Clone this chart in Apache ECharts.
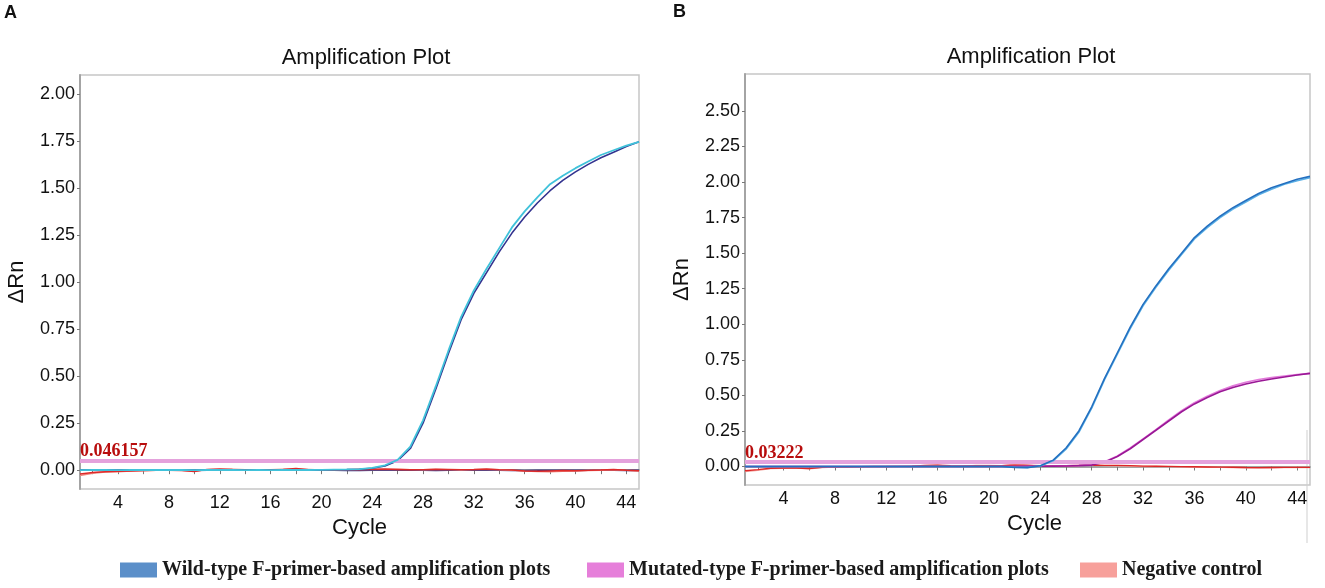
<!DOCTYPE html>
<html>
<head>
<meta charset="utf-8">
<script src="https://cdn.jsdelivr.net/npm/echarts@6/dist/echarts.min.js"></script>
<style>
html,body{margin:0;padding:0;background:#fff;}
#chart{width:1325px;height:588px;}
</style>
</head>
<body>
<div id="chart"></div>
<script>
// ---------- data ----------
const cycles = [1,2,3,4,5,6,7,8,9,10,11,12,13,14,15,16,17,18,19,20,21,22,23,24,25,26,27,28,29,30,31,32,33,34,35,36,37,38,39,40,41,42,43,44,45];
const xTickValues = [2,4,6,8,10,12,14,16,18,20,22,24,26,28,30,32,34,36,38,40,42,44];
const xLabelValues = [4,8,12,16,20,24,28,32,36,40,44];
const yLabelsA = [0,0.25,0.5,0.75,1,1.25,1.5,1.75,2];
const yLabelsB = [0,0.25,0.5,0.75,1,1.25,1.5,1.75,2,2.25,2.5];
const thresholdA = 0.046157;
const thresholdB = 0.03222;

// Panel A
const aWild1 = [0.000,0.002,0.001,0.000,0.001,0.002,0.001,0.002,0.001,0.000,0.001,0.002,0.001,0.000,0.001,0.000,0.001,0.002,0.001,0.002,0.003,0.004,0.006,0.012,0.026,0.055,0.125,0.265,0.445,0.635,0.815,0.955,1.070,1.180,1.290,1.375,1.450,1.520,1.565,1.605,1.640,1.675,1.700,1.725,1.745];
const aWild2 = [0.000,0.001,0.001,0.000,0.001,0.001,0.001,0.001,0.000,0.000,0.001,0.001,0.001,0.000,0.000,0.000,0.001,0.001,0.001,0.001,0.002,0.003,0.005,0.010,0.022,0.050,0.115,0.250,0.430,0.620,0.800,0.940,1.050,1.160,1.260,1.345,1.420,1.485,1.540,1.585,1.625,1.660,1.690,1.720,1.745];
const aFlat  = [0.000,0.000,-0.001,0.000,0.001,0.000,0.000,0.001,0.000,-0.001,0.000,0.001,0.000,0.000,0.000,0.001,0.000,0.000,0.001,0.000,0.000,-0.001,-0.001,0.000,0.000,0.001,0.000,0.000,-0.001,0.000,0.000,0.001,0.000,0.000,-0.001,-0.002,-0.001,0.000,0.000,-0.001,0.000,0.001,0.000,-0.001,-0.001];
const aNeg1  = [-0.020,-0.012,-0.008,-0.006,-0.004,-0.002,-0.001,0.000,-0.002,-0.007,0.004,0.006,0.004,0.003,0.002,0.003,0.004,0.009,0.003,0.002,0.001,0.003,0.004,0.005,0.006,0.004,0.002,0.003,0.005,0.004,0.003,0.004,0.006,0.003,0.001,-0.004,-0.006,-0.004,-0.002,-0.003,-0.001,0.001,0.004,0.000,-0.003];
const aNeg2  = [-0.028,-0.016,-0.010,-0.008,-0.005,-0.003,-0.001,0.001,0.000,-0.004,0.002,0.004,0.005,0.002,0.001,0.002,0.005,0.006,0.004,0.001,0.000,0.002,0.004,0.003,0.004,0.005,0.003,0.002,0.004,0.003,0.001,0.003,0.004,0.002,-0.001,-0.005,-0.007,-0.008,-0.006,-0.004,-0.002,0.000,0.002,-0.001,-0.004];

// Panel B
const bWild1 = [0.000,0.000,0.000,0.000,0.000,0.000,0.000,0.000,0.000,0.000,0.000,0.000,0.000,0.000,0.000,0.000,0.000,0.000,0.000,0.000,0.000,-0.006,-0.008,0.005,0.045,0.130,0.250,0.420,0.620,0.800,0.980,1.140,1.270,1.390,1.500,1.610,1.690,1.760,1.820,1.870,1.920,1.960,1.990,2.020,2.040];
const bWild2 = [0.000,0.000,0.000,0.000,0.000,0.000,0.000,0.000,0.000,0.000,0.000,0.000,0.000,0.000,0.000,0.000,0.000,0.000,0.000,0.000,0.000,-0.004,-0.006,0.004,0.040,0.122,0.240,0.410,0.610,0.790,0.970,1.130,1.260,1.380,1.490,1.600,1.680,1.750,1.810,1.860,1.910,1.950,1.985,2.010,2.030];
const bMut1  = [0.000,0.000,0.000,0.000,0.000,0.000,0.000,0.000,0.000,0.000,0.000,0.000,0.000,0.000,0.000,0.000,0.000,0.000,0.000,0.000,0.000,0.000,0.001,0.002,0.003,0.004,0.006,0.010,0.030,0.070,0.125,0.190,0.255,0.320,0.385,0.440,0.485,0.525,0.555,0.580,0.600,0.615,0.630,0.643,0.655];
const bMut2  = [0.000,0.000,0.000,0.000,0.000,0.000,0.000,0.000,0.000,0.000,0.000,0.000,0.000,0.000,0.000,0.000,0.000,0.000,0.000,0.000,0.000,0.000,0.001,0.002,0.003,0.005,0.008,0.012,0.033,0.074,0.130,0.195,0.260,0.327,0.392,0.448,0.495,0.535,0.567,0.593,0.612,0.625,0.636,0.646,0.655];
const bNeg1  = [-0.030,-0.022,-0.012,-0.010,-0.010,-0.014,-0.006,-0.002,-0.003,-0.002,0.000,0.000,0.001,0.003,0.008,0.009,0.005,0.004,0.006,0.006,0.005,0.010,0.008,0.004,0.003,0.005,0.008,0.009,0.008,0.008,0.006,0.003,0.002,0.001,-0.001,-0.002,-0.003,-0.004,-0.005,-0.007,-0.008,-0.007,-0.006,-0.006,-0.006];
const bNeg2  = [-0.036,-0.026,-0.015,-0.012,-0.011,-0.016,-0.008,-0.004,-0.004,-0.003,-0.001,0.000,0.002,0.004,0.006,0.010,0.000,0.003,0.007,0.008,0.006,0.016,0.011,0.006,0.002,0.004,0.006,0.012,0.006,0.005,0.004,0.000,0.000,-0.001,-0.002,-0.003,-0.004,-0.006,-0.007,-0.009,-0.010,-0.009,-0.008,-0.007,-0.008];

const nameWild = 'Wild-type F-primer-based amplification plots';
const nameMut = 'Mutated-type F-primer-based amplification plots';
const nameNeg = 'Negative control';

// ---------- build ----------
const pairs = arr => cycles.map((c, i) => [c, arr[i]]);
const sans = 'Liberation Sans, Arial, sans-serif';
const serif = 'Liberation Serif, Times New Roman, serif';

function lineSeries(name, arr, color, idx, z, width) {
  return {
    type: 'line', name: name, data: pairs(arr),
    xAxisIndex: idx, yAxisIndex: idx,
    showSymbol: false, symbol: 'none', smooth: false,
    lineStyle: { color: color, width: width || 1.6 },
    itemStyle: { color: color },
    z: z, silent: true, animation: false
  };
}

function thresholdMark(value, label) {
  return {
    symbol: 'none', silent: true, animation: false,
    lineStyle: { color: '#e4a2dc', width: 4, type: 'solid' },
    label: {
      show: true, position: 'insideStartTop', formatter: label,
      color: '#b80d0d', fontFamily: serif, fontWeight: 'bold', fontSize: 18,
      distance: [0, 0]
    },
    data: [{ yAxis: value }]
  };
}

function xAxis(idx, namePad) {
  return {
    type: 'value', gridIndex: idx, min: 1, max: 45,
    axisLine: { show: true, lineStyle: { color: '#a4a4a4', width: 2 } },
    axisTick: { show: true, customValues: xTickValues, length: 4, lineStyle: { color: '#777', width: 1 } },
    axisLabel: { customValues: xLabelValues, fontSize: 18, color: '#111', fontFamily: sans, margin: 5 },
    splitLine: { show: false },
    name: 'Cycle', nameLocation: 'middle', nameGap: 28,
    nameTextStyle: { fontSize: 22, color: '#111', fontFamily: sans, padding: namePad }
  };
}

function yAxis(idx, min, max, labels) {
  return {
    type: 'value', gridIndex: idx, min: min, max: max,
    axisLine: { show: true, lineStyle: { color: '#a4a4a4', width: 2 } },
    axisTick: { show: true, customValues: labels, length: 3, lineStyle: { color: '#777', width: 1 } },
    axisLabel: { customValues: labels, fontSize: 18, color: '#111', fontFamily: sans, margin: 5,
                 formatter: v => Number(v).toFixed(2) },
    splitLine: { show: false },
    name: 'ΔRn', nameLocation: 'middle', nameGap: 52, nameRotate: 90,
    nameTextStyle: { fontSize: 22, color: '#111', fontFamily: sans }
  };
}

const seriesA = [
  lineSeries(nameNeg, aFlat, '#2c2c80', 0, 2, 1.6),
  lineSeries(nameNeg, aNeg2, '#f08a80', 0, 3, 1.4),
  lineSeries(nameNeg, aNeg1, '#dd2a2a', 0, 3, 1.4),
  lineSeries(nameWild, aWild2, '#33338f', 0, 4, 1.6),
  lineSeries(nameWild, aWild1, '#40c2da', 0, 5, 1.8)
];
seriesA[seriesA.length - 1].markLine = thresholdMark(thresholdA, String(thresholdA));

const seriesB = [
  lineSeries(nameNeg, bNeg2, '#f2a6a0', 1, 3, 1.4),
  lineSeries(nameNeg, bNeg1, '#dd2626', 1, 3, 1.4),
  lineSeries(nameMut, bMut2, '#e27ada', 1, 4, 1.6),
  lineSeries(nameMut, bMut1, '#9a1896', 1, 4, 1.6),
  lineSeries(nameWild, bWild2, '#5ab0e6', 1, 5, 1.6),
  lineSeries(nameWild, bWild1, '#2470c0', 1, 5, 1.6)
];
seriesB[seriesB.length - 1].markLine = thresholdMark(thresholdB, String(thresholdB));

const legendText = { fontFamily: serif, fontWeight: 'bold', fontSize: 20, color: '#1a1a1a' };
function legend(left, name, color) {
  return {
    left: left, top: 560, padding: 0, itemGap: 0, itemWidth: 37, itemHeight: 15,
    icon: 'rect', selectedMode: false, textStyle: legendText,
    data: [{ name: name, itemStyle: { color: color }, icon: 'rect' }]
  };
}

const option = {
  backgroundColor: '#ffffff',
  animation: false,
  grid: [
    { left: 80, right: 686, top: 75, bottom: 99, show: true, borderColor: '#c6c6c6', borderWidth: 1.5, containLabel: false },
    { left: 745, right: 15, top: 74, bottom: 103, show: true, borderColor: '#c6c6c6', borderWidth: 1.5, containLabel: false }
  ],
  xAxis: [xAxis(0, [0, 0, 0, 0]), xAxis(1, [0, 0, 0, 14])],
  yAxis: [yAxis(0, -0.1, 2.1, yLabelsA), yAxis(1, -0.13, 2.76, yLabelsB)],
  legend: [
    legend(120, nameWild, '#5b8fc9'),
    legend(587, nameMut, '#e67fda'),
    legend(1080, nameNeg, '#f7a09b')
  ],
  graphic: [
    { type: 'text', left: 4, top: 4, style: { text: 'A', font: 'bold 18px ' + sans, fill: '#111' } },
    { type: 'text', left: 673, top: 3, style: { text: 'B', font: 'bold 18px ' + sans, fill: '#111' } },
    { type: 'text', x: 366, y: 58, style: { text: 'Amplification Plot', font: '22px ' + sans, fill: '#111', textAlign: 'center', textVerticalAlign: 'middle' } },
    { type: 'text', x: 1031, y: 57, style: { text: 'Amplification Plot', font: '22px ' + sans, fill: '#111', textAlign: 'center', textVerticalAlign: 'middle' } },
    { type: 'line', shape: { x1: 1307, y1: 430, x2: 1307, y2: 543 }, style: { stroke: '#cfcfcf', lineWidth: 1 } }
  ],
  series: seriesA.concat(seriesB)
};

const chart = echarts.init(document.getElementById('chart'), null, { renderer: 'canvas' });
chart.setOption(option);
</script>
</body>
</html>
